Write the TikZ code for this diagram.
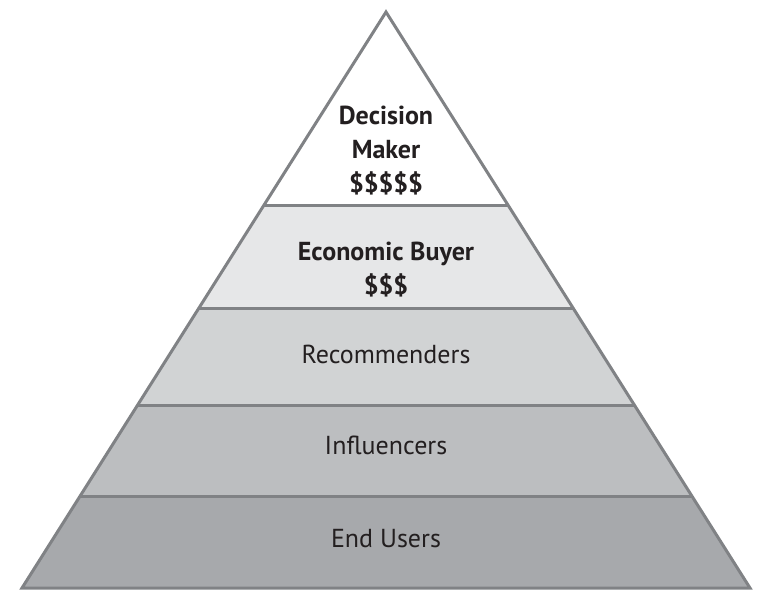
\documentclass[tikz,border=0pt]{standalone}
\usepackage{fontspec}
\setmainfont{PT Sans}
\usetikzlibrary{calc}
\definecolor{edge}{HTML}{808285}
\definecolor{bandA}{HTML}{FFFFFF}
\definecolor{bandB}{HTML}{E6E7E8}
\definecolor{bandC}{HTML}{D1D3D4}
\definecolor{bandD}{HTML}{BCBEC0}
\definecolor{bandE}{HTML}{A7A9AC}
\definecolor{txt}{HTML}{231F20}
\tikzset{
  band/.style={draw=edge, line width=3pt, line join=miter},
  lbl/.style={text=txt, font=\fontsize{26}{34}\selectfont, align=center, inner sep=0pt},
  blbl/.style={lbl, font=\fontsize{26}{34}\selectfont\bfseries},
}
\begin{document}
\begin{tikzpicture}[x=1pt,y=-1pt]
\useasboundingbox (0,0) rectangle (769,597);
\coordinate (A) at (386,12);
\coordinate (L) at (22,588);
\coordinate (R) at (750,588);
\coordinate (l1) at ($(A)!0.3351!(L)$);
\coordinate (r1) at ($(A)!0.3351!(R)$);
\coordinate (l2) at ($(A)!0.5156!(L)$);
\coordinate (r2) at ($(A)!0.5156!(R)$);
\coordinate (l3) at ($(A)!0.6823!(L)$);
\coordinate (r3) at ($(A)!0.6823!(R)$);
\coordinate (l4) at ($(A)!0.8403!(L)$);
\coordinate (r4) at ($(A)!0.8403!(R)$);
\fill[bandA] (A) -- (l1) -- (r1) -- cycle;
\fill[bandB] (l1) -- (l2) -- (r2) -- (r1) -- cycle;
\fill[bandC] (l2) -- (l3) -- (r3) -- (r2) -- cycle;
\fill[bandD] (l3) -- (l4) -- (r4) -- (r3) -- cycle;
\fill[bandE] (l4) -- (L) -- (R) -- (r4) -- cycle;
\draw[band] (l1) -- (r1);
\draw[band] (l2) -- (r2);
\draw[band] (l3) -- (r3);
\draw[band] (l4) -- (r4);
\draw[band] (A) -- (L) -- (R) -- cycle;
\node[blbl] (dm) at (386,151) {Decision\\Maker\\\$\$\$\$\$};
\node[blbl] (eb) at (386,270) {Economic Buyer\\\$\$\$};
\node[lbl] (rc) at (386,354) {Recommenders};
\node[lbl] (inf) at (386,445) {Influencers};
\node[lbl] (eu) at (386,539) {End Users};
\end{tikzpicture}
\end{document}
